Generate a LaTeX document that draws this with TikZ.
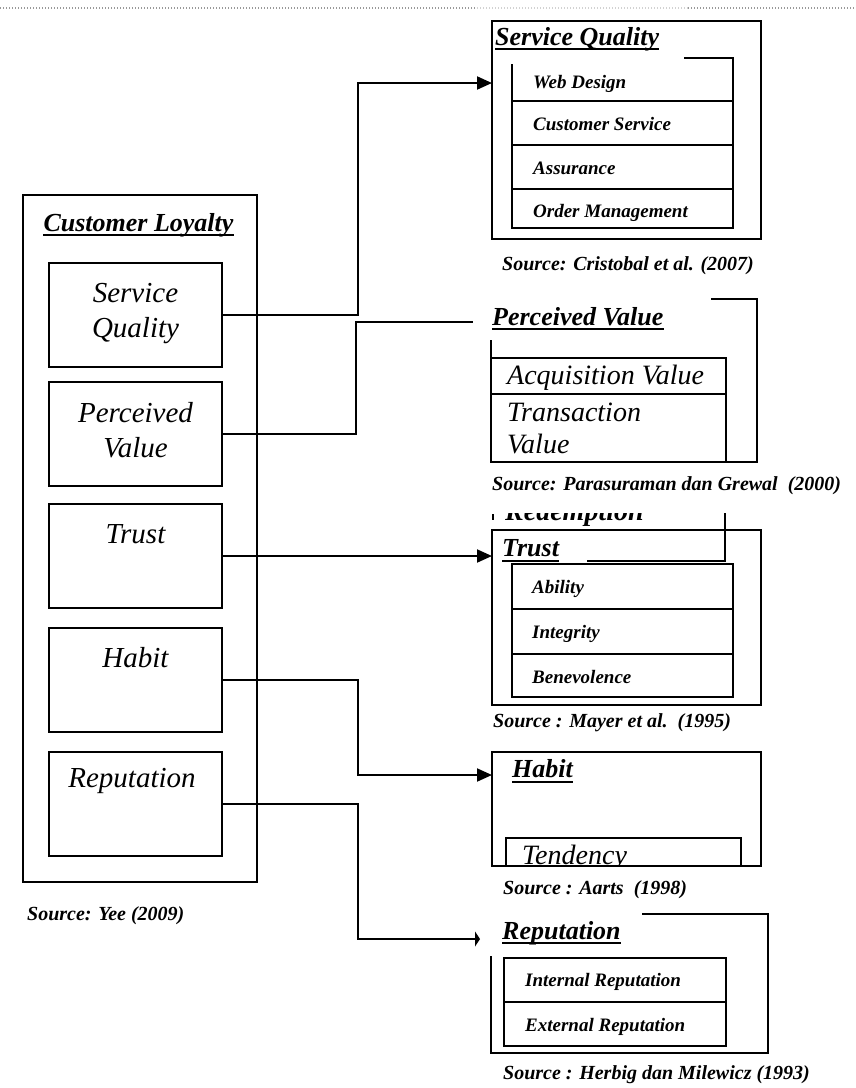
\documentclass[tikz,border=0pt]{standalone}
\usepackage{fontspec}
\setmainfont{Liberation Serif}
\usetikzlibrary{arrows.meta}
\begin{document}
\begin{tikzpicture}[x=1pt,y=-1pt,
  ln/.style={line width=2pt, black},
  lbox/.style={draw, line width=2pt, minimum width=173pt, minimum height=104pt, inner sep=0pt},
  rbox/.style={draw, line width=2pt, minimum width=269pt, inner sep=0pt},
  lbl/.style={inner sep=0pt, anchor=base, font=\fontsize{29}{34}\selectfont\itshape},
  head/.style={inner sep=0pt, anchor=base west, font=\fontsize{26}{30}\selectfont\bfseries\itshape},
  item/.style={inner sep=0pt, anchor=base west, font=\fontsize{19}{23}\selectfont\bfseries\itshape},
  big/.style={inner sep=0pt, anchor=base west, font=\fontsize{28}{34}\selectfont\itshape},
  src/.style={inner sep=0pt, anchor=base west, font=\fontsize{20}{24}\selectfont\bfseries\itshape},
  arr/.style={ln, -{Triangle[length=15pt,width=13pt]}},
  uline/.style={line width=2.2pt},
  dots/.style={line width=1.5pt, dash pattern=on 1pt off 2pt},
]
\useasboundingbox (0,0) rectangle (855,1088);

% top dotted rule
\draw[dots, gray!80] (0,8) -- (477,8);
\draw[dots, gray!35] (477,8) -- (688,8);
\draw[dots, gray!80] (688,8) -- (855,8);

% ---------- left column ----------
\node[draw, line width=2pt, minimum width=234pt, minimum height=687pt, inner sep=0pt] (cl) at (140,538.5) {};
\node[head, anchor=base] (clh) at (138.5,231) {Customer Loyalty};
\draw[uline] ([yshift=-4pt]clh.base west) -- ([yshift=-4pt]clh.base east);

\node[lbox] (sq) at (135.5,315) {};
\node[lbl] (sq1) at (135.5,302) {Service};
\node[lbl] (sq2) at (135.5,337) {Quality};

\node[lbox] (pv) at (135.5,434) {};
\node[lbl] (pv1) at (135.5,422) {Perceived};
\node[lbl] (pv2) at (135.5,457) {Value};

\node[lbox] (tr) at (135.5,556) {};
\node[lbl] (tr1) at (135.5,543) {Trust};

\node[lbox] (hb) at (135.5,680) {};
\node[lbl] (hb1) at (135.5,667) {Habit};

\node[lbox] (rp) at (135.5,804) {};
\node[lbl] (rp1) at (132,787) {Reputation};

\node[src] (srcy) at (27,920) {Source: Yee (2009)};

% ---------- Service Quality (right) ----------
\node[rbox, minimum height=218pt] (rsq) at (626.5,130) {};
\node[head] (rsqh) at (495,45) {Service Quality};
\draw[uline] ([yshift=-4pt]rsqh.base west) -- ([yshift=-4pt]rsqh.base east);
\draw[ln] (512,64) -- (512,228) -- (733,228) -- (733,58) -- (684,58);
\draw[ln] (512,101) -- (733,101);
\draw[ln] (512,145) -- (733,145);
\draw[ln] (512,189) -- (733,189);
\node[item] (sqa) at (533,88) {Web Design};
\node[item] (sqb) at (533,130) {Customer Service};
\node[item] (sqc) at (533,174) {Assurance};
\node[item] (sqd) at (533,217) {Order Management};
\node[src] (srcsq) at (502,270) {Source: Cristobal et al. (2007)};

% ---------- Perceived Value (right) ----------
\node[head] (rpvh) at (492,325) {Perceived Value};
\draw[uline] ([yshift=-4pt]rpvh.base west) -- ([yshift=-4pt]rpvh.base east);
\draw[ln] (711,299) -- (757,299) -- (757,462) -- (726,462);
\draw[ln] (491,340) -- (491,358);
\draw[ln] (491,358) rectangle (726,462);
\draw[ln] (491,394) -- (726,394);
\node[big] (pva) at (507,384) {Acquisition Value};
\node[big] (pvb) at (507,421) {Transaction};
\node[big] (pvc) at (507,453) {Value};
\node[src] (srcpv) at (492,490) {Source: Parasuraman dan Grewal\ \ (2000)};

% clipped remnant "Redemption"
\begin{scope}
\clip (480,513) rectangle (700,530);
\node[big, font=\fontsize{28}{34}\selectfont\bfseries\itshape] (red) at (505,520) {Redemption};
\end{scope}
\draw[line width=1.5pt] (493,514) -- (493,520);
\draw[ln] (725,513) -- (725,561) -- (587,561);

% ---------- Trust (right) ----------
\node[rbox, minimum height=175pt] (rtr) at (626.5,617.5) {};
\node[head] (rtrh) at (502,556) {Trust};
\draw[uline] ([yshift=-5pt]rtrh.base west) -- ([yshift=-5pt]rtrh.base east);
\draw[ln] (512,564) rectangle (733,697);
\draw[ln] (512,609) -- (733,609);
\draw[ln] (512,654) -- (733,654);
\node[item] (tra) at (532,593) {Ability};
\node[item] (trb) at (532,638) {Integrity};
\node[item] (trc) at (532,683) {Benevolence};
\node[src] (srctr) at (493,727) {Source : Mayer et al.\ \ (1995)};

% ---------- Habit (right) ----------
\node[rbox, minimum height=114pt] (rhb) at (626.5,809) {};
\node[head] (rhbh) at (512,777) {Habit};
\draw[uline] ([yshift=-5pt]rhbh.base west) -- ([yshift=-5pt]rhbh.base east);
\draw[ln] (506,866) -- (506,838) -- (741,838) -- (741,866);
\begin{scope}
\clip (500,838) rectangle (760,866);
\node[big] (hba) at (522,864) {Tendency};
\end{scope}
\node[src] (srchb) at (503,894) {Source : Aarts\ \ (1998)};

% ---------- Reputation (right) ----------
\node[head] (rrph) at (502,939) {Reputation};
\draw[uline] ([yshift=-4pt]rrph.base west) -- ([yshift=-4pt]rrph.base east);
\draw[ln] (642,914) -- (768,914) -- (768,1053) -- (491,1053) -- (491,956);
\draw[ln] (504,958) rectangle (726,1046);
\draw[ln] (504,1002) -- (726,1002);
\node[item] (rpa) at (525,986) {Internal Reputation};
\node[item] (rpb) at (525,1031) {External Reputation};
\node[src] (srcrp) at (503,1079) {Source : Herbig dan Milewicz (1993)};

% ---------- connectors ----------
\coordinate (sqin) at (492,83);
\coordinate (pvin) at (473,322);
\coordinate (trin) at (492,556);
\coordinate (hbin) at (492,775);
\coordinate (rpin) at (480,939);

\draw[arr] (sq.east) -- ++(135,0) |- (sqin);
\draw[ln] (pv.east) -- ++(133,0) |- (pvin);
\draw[arr] (tr.east) -- (trin);
\draw[arr] (hb.east) -- ++(135,0) |- (hbin);
\draw[ln, -{Triangle[length=5pt,width=15pt]}] (rp.east) -- ++(135,0) |- (rpin);
\end{tikzpicture}
\end{document}
